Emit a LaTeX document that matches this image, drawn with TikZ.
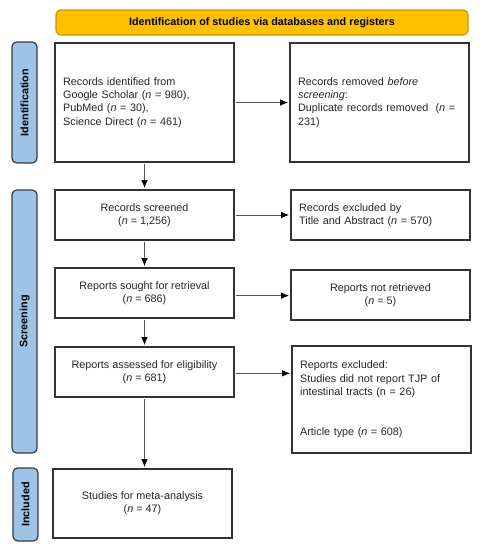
\documentclass[tikz,border=0pt]{standalone}
\usepackage{fontspec}
\setmainfont{Liberation Sans}
\usetikzlibrary{arrows.meta}
\definecolor{banner}{HTML}{FFC000}
\definecolor{bannerline}{HTML}{C89600}
\definecolor{sidefill}{HTML}{9DC3E6}
\definecolor{sideline}{HTML}{3A3A3A}
\definecolor{boxline}{HTML}{333333}
\definecolor{arrowline}{HTML}{555555}
\tikzset{
  box/.style={draw=boxline, line width=0.9pt, fill=white, inner sep=0pt,
    font=\fontsize{8.1pt}{10pt}\selectfont, text=black!85},
  sidebar/.style={draw=sideline, fill=sidefill, line width=0.9pt, rounded corners=3.5pt,
    inner sep=0pt, minimum height=18.75pt, font=\bfseries\fontsize{8.1pt}{10pt}\selectfont, rotate=90},
  flow/.style={draw=arrowline, line width=0.7pt, -{Latex[length=6pt,width=5pt,color=black]},
    shorten >=1pt, shorten <=1.2pt},
}
\begin{document}
\begin{tikzpicture}[x=0.75pt,y=-0.75pt]
\useasboundingbox (0,0) rectangle (487,550);
% banner
\node[draw=bannerline, fill=banner, line width=0.9pt, rounded corners=3.5pt,
  minimum width=309pt, minimum height=18.75pt, inner sep=0pt,
  font=\bfseries\fontsize{8.1pt}{10pt}\selectfont] (title) at (262,22.5)
  {Identification of studies via databases and registers};
% side bars
\node[sidebar, minimum width=90.75pt] (sid) at (24.5,102.5) {Identification};
\node[sidebar, minimum width=197.25pt] (sscr) at (24.5,321.5) {Screening};
\node[sidebar, minimum width=54.75pt] (sinc) at (25.5,504.5) {Included};
% boxes
\node[box, minimum width=134.25pt, minimum height=89.25pt, text width=122pt, align=left] (b1) at (144.5,102.5)
  {Records identified from\\Google Scholar (\textit{n} = 980),\\PubMed (\textit{n} = 30),\\Science Direct (\textit{n} = 461)};
\node[box, minimum width=134.25pt, minimum height=89.25pt, text width=122pt, align=left] (b2) at (379.5,102.5)
  {Records removed \textit{before}\\\textit{screening}:\\Duplicate records removed\ \ (\textit{n} =\\231)};
\node[box, minimum width=134.25pt, minimum height=37.5pt, align=center] (b3) at (144.5,215)
  {Records screened\\(\textit{n} = 1,256)};
\node[box, minimum width=134.25pt, minimum height=37.5pt, text width=122pt, align=left] (b4) at (380.5,215)
  {Records excluded by\\Title and Abstract (\textit{n} = 570)};
\node[box, minimum width=134.25pt, minimum height=37.5pt, align=center] (b5) at (144.5,293)
  {Reports sought for retrieval\\(\textit{n} = 686)};
\node[box, minimum width=134.25pt, minimum height=37.5pt, align=center] (b6) at (380.5,295)
  {Reports not retrieved\\(\textit{n} = 5)};
\node[box, minimum width=134.25pt, minimum height=37.5pt, align=center] (b7) at (144.5,372)
  {Reports assessed for eligibility\\(\textit{n} = 681)};
\node[box, minimum width=134.25pt, minimum height=80.25pt, text width=122pt, align=left] (b8) at (381.5,399.5)
  {Reports excluded:\\Studies did not report TJP of\\intestinal tracts (n = 26)\\[20pt]Article type (\textit{n} = 608)};
\node[box, minimum width=134.25pt, minimum height=51.75pt, align=center] (b9) at (142.5,503.5)
  {Studies for meta-analysis\\(\textit{n} = 47)};
% connectors
\draw[flow] (b1.east) -- (b1.east -| b2.west);
\draw[flow] (b3.east) -- (b3.east -| b4.west);
\draw[flow] ([yshift=-2pt]b5.east) -- ([yshift=-2pt]b5.east -| b6.west);
\draw[flow] ([yshift=-1pt]b7.east) -- ([yshift=-1pt]b7.east -| b8.west);
\draw[flow] (b1.south) -- (b1.south |- b3.north);
\draw[flow] (b3.south) -- (b3.south |- b5.north);
\draw[flow] (b5.south) -- (b5.south |- b7.north);
\draw[flow] (b7.south) -- (b7.south |- b9.north);
\end{tikzpicture}
\end{document}
